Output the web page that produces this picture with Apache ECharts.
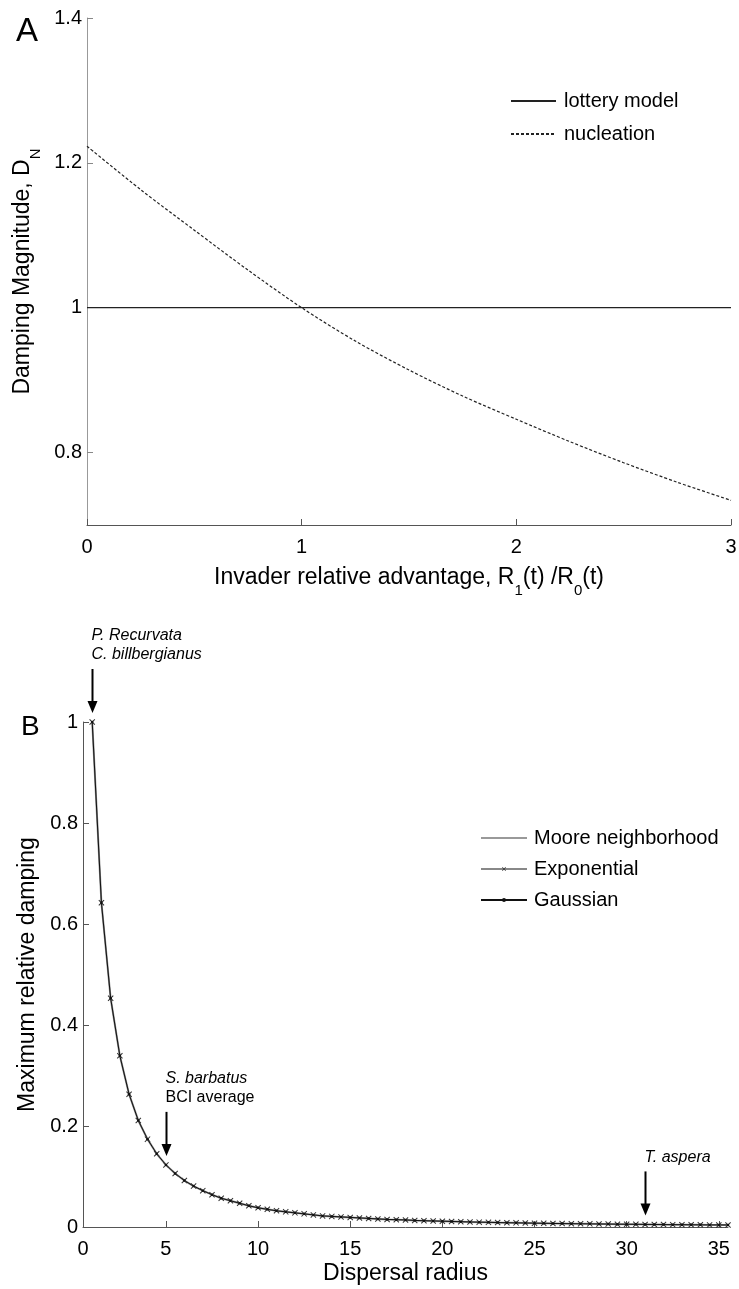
<!DOCTYPE html>
<html lang="en">
<head>
<meta charset="UTF-8">
<title>Damping magnitude / relative damping</title>
<style>
    body { margin: 0; background: #fff; }
    #main { width: 739px; height: 1289px; }
</style>
<script src="https://cdn.jsdelivr.net/npm/echarts@6.0.0/dist/echarts.min.js"></script>
</head>
<body>
<div id="main"></div>
<script type="text/javascript">
// ---- panel A data ----
var advantage = [0, 0.25, 0.5, 0.75, 1, 1.25, 1.5, 1.75, 2, 2.25, 2.5, 2.75, 3];
var lottery = [1, 1, 1, 1, 1, 1, 1, 1, 1, 1, 1, 1, 1];
var nucleation = [1.223, 1.163, 1.107, 1.052, 1.0, 0.954, 0.914, 0.878, 0.846, 0.815, 0.786, 0.759, 0.734];
var yTicksA = [0.8, 1, 1.2, 1.4];

// ---- panel B data ----
var radius = [1, 1.5, 2, 2.5, 3, 3.5, 4, 4.5, 5, 5.5, 6, 6.5, 7, 7.5, 8, 8.5, 9, 9.5, 10, 10.5,
    11, 11.5, 12, 12.5, 13, 13.5, 14, 14.5, 15, 15.5, 16, 16.5, 17, 17.5, 18, 18.5, 19, 19.5, 20, 20.5,
    21, 21.5, 22, 22.5, 23, 23.5, 24, 24.5, 25, 25.5, 26, 26.5, 27, 27.5, 28, 28.5, 29, 29.5, 30, 30.5,
    31, 31.5, 32, 32.5, 33, 33.5, 34, 34.5, 35, 35.5];
var dampExp = [1.000, 0.642, 0.453, 0.339, 0.263, 0.211, 0.174, 0.145, 0.123, 0.106,
    0.092, 0.081, 0.072, 0.064, 0.057, 0.052, 0.047, 0.042, 0.038, 0.035,
    0.032, 0.030, 0.028, 0.026, 0.024, 0.022, 0.021, 0.020, 0.019, 0.018,
    0.017, 0.016, 0.015, 0.0145, 0.014, 0.013, 0.0125, 0.012, 0.0115, 0.011,
    0.0105, 0.010, 0.0096, 0.0092, 0.0088, 0.0085, 0.0082, 0.0079, 0.0076, 0.0073,
    0.0070, 0.0068, 0.0066, 0.0064, 0.0062, 0.0060, 0.0058, 0.0056, 0.0054, 0.0053,
    0.0051, 0.0050, 0.0048, 0.0047, 0.0046, 0.0044, 0.0043, 0.0042, 0.0041, 0.0040];
// the three kernels lie on top of each other in the figure
var dampMoore = dampExp;
var dampGauss = dampExp;
var xTicksB = [0.5, 5, 10, 15, 20, 25, 30, 35];
var xTickLabelsB = ['0', '5', '10', '15', '20', '25', '30', '35'];

var noteRadius = [1, 5, 31];
var noteText = [
    '{i|P. Recurvata}\n{i|C. billbergianus}',
    '{i|S. barbatus}\n{n|BCI average}',
    '{i|T. aspera}'
];

var FONT = '"Liberation Sans", Arial, Helvetica, sans-serif';

function zip(xs, ys) {
    var out = [];
    for (var i = 0; i < xs.length; i++) out.push([xs[i], ys[i]]);
    return out;
}

var crossPath = 'path://M0,1.2L1.2,0L5,3.8L8.8,0L10,1.2L6.2,5L10,8.8L8.8,10L5,6.2L1.2,10L0,8.8L3.8,5Z';
// legend entries of plain lines: hide the default dot
var noDot = { color: 'rgba(0,0,0,0)', borderWidth: 0 };

var option = {
    animation: false,
    backgroundColor: '#fff',
    textStyle: { fontFamily: FONT },
    title: [
        { text: 'A', left: 16, top: 15, padding: 0,
          textStyle: { fontSize: 33, fontWeight: 'normal', color: '#000', fontFamily: FONT } },
        { text: 'B', left: 21, top: 713, padding: 0,
          textStyle: { fontSize: 28, fontWeight: 'normal', color: '#000', fontFamily: FONT } }
    ],
    legend: [
        {
            data: [{ name: 'lottery model', itemStyle: noDot }, { name: 'nucleation', itemStyle: noDot }],
            orient: 'vertical', left: 510, top: 91, padding: 0,
            itemWidth: 45, itemHeight: 6, itemGap: 13,
            textStyle: { fontSize: 20, color: '#000', fontFamily: FONT, padding: [0, 0, 0, 3] }
        },
        {
            data: [{ name: 'Moore neighborhood', itemStyle: noDot }, 'Exponential', 'Gaussian'],
            orient: 'vertical', left: 480, top: 828, padding: 0,
            itemWidth: 46, itemHeight: 5, itemGap: 11,
            textStyle: { fontSize: 20, color: '#000', fontFamily: FONT, padding: [0, 0, 0, 2] }
        }
    ],
    grid: [
        { left: 87, right: 8, top: 18, bottom: 764, outerBoundsMode: 'none' },
        { left: 83, right: 11, top: 722, bottom: 62, outerBoundsMode: 'none' }
    ],
    xAxis: [
        {
            gridIndex: 0, type: 'value', min: 0, max: 3, interval: 1,
            splitLine: { show: false },
            axisLine: { lineStyle: { color: '#555', width: 1 } },
            axisTick: { show: true, inside: true, length: 6, lineStyle: { color: '#555' } },
            axisLabel: { fontSize: 20, color: '#000', margin: 12, fontFamily: FONT },
            name: 'Invader relative advantage, R{s|1}(t) /R{s|0}(t)',
            nameLocation: 'middle', nameGap: 31,
            nameTextStyle: {
                fontSize: 23, color: '#000', fontFamily: FONT, lineHeight: 40,
                rich: { s: { fontSize: 15, lineHeight: 15, verticalAlign: 'bottom', fontFamily: FONT, color: '#000' } }
            }
        },
        {
            gridIndex: 1, type: 'value', min: 0.5, max: 35.5,
            splitLine: { show: false },
            axisLine: { lineStyle: { color: '#555', width: 1 } },
            axisTick: { show: true, inside: true, length: 6, lineStyle: { color: '#555' }, customValues: xTicksB },
            axisLabel: {
                fontSize: 20, color: '#000', margin: 12, fontFamily: FONT,
                customValues: xTicksB,
                formatter: function (v) {
                    var i = xTicksB.indexOf(v);
                    return i >= 0 ? xTickLabelsB[i] : '';
                }
            },
            name: 'Dispersal radius',
            nameLocation: 'middle', nameGap: 35,
            nameTextStyle: { fontSize: 23, color: '#000', fontFamily: FONT }
        }
    ],
    yAxis: [
        {
            gridIndex: 0, type: 'value', min: 0.7, max: 1.4,
            splitLine: { show: false },
            axisLine: { show: true, lineStyle: { color: '#999', width: 1 } },
            axisTick: { show: true, inside: true, length: 6, lineStyle: { color: '#888' }, customValues: yTicksA },
            axisLabel: { fontSize: 20, color: '#000', margin: 5, fontFamily: FONT, customValues: yTicksA },
            name: 'Damping Magnitude, D{s|N}',
            nameLocation: 'middle', nameGap: 44,
            nameTextStyle: {
                fontSize: 23, color: '#000', fontFamily: FONT, lineHeight: 40,
                rich: { s: { fontSize: 15, lineHeight: 15, verticalAlign: 'bottom', fontFamily: FONT, color: '#000' } }
            }
        },
        {
            gridIndex: 1, type: 'value', min: 0, max: 1, interval: 0.2,
            splitLine: { show: false },
            axisLine: { show: true, lineStyle: { color: '#555', width: 1 } },
            axisTick: { show: true, inside: true, length: 6, lineStyle: { color: '#555' } },
            axisLabel: { fontSize: 20, color: '#000', margin: 5, fontFamily: FONT },
            name: 'Maximum relative damping',
            nameLocation: 'middle', nameGap: 40,
            nameTextStyle: { fontSize: 23, color: '#000', fontFamily: FONT }
        }
    ],
    series: [
        {
            name: 'lottery model', type: 'line', xAxisIndex: 0, yAxisIndex: 0,
            data: zip(advantage, lottery), symbol: 'none',
            lineStyle: { color: '#222', width: 1.2 }, itemStyle: { color: '#222' }
        },
        {
            name: 'nucleation', type: 'line', xAxisIndex: 0, yAxisIndex: 0,
            data: zip(advantage, nucleation), symbol: 'none', smooth: 0.3,
            lineStyle: { color: '#222', width: 1.2, type: [3, 2] }, itemStyle: { color: '#222' }
        },
        {
            name: 'Moore neighborhood', type: 'line', xAxisIndex: 1, yAxisIndex: 1,
            data: zip(radius, dampMoore), symbol: 'none',
            lineStyle: { color: '#999', width: 2 }, itemStyle: { color: '#999' }
        },
        {
            name: 'Exponential', type: 'line', xAxisIndex: 1, yAxisIndex: 1,
            data: zip(radius, dampExp), symbol: crossPath, symbolSize: 6, showAllSymbol: true,
            lineStyle: { color: '#888', width: 1.2 }, itemStyle: { color: '#333' }
        },
        {
            name: 'Gaussian', type: 'line', xAxisIndex: 1, yAxisIndex: 1,
            data: zip(radius, dampGauss), symbol: 'circle', symbolSize: 2.5, showAllSymbol: true,
            lineStyle: { color: '#111', width: 1 }, itemStyle: { color: '#111' }
        }
    ]
};

var chart = echarts.init(document.getElementById('main'));
chart.setOption(option);

// annotation arrows pointing at data points of panel B
var graphics = [];
for (var k = 0; k < noteRadius.length; k++) {
    var r = noteRadius[k];
    var v = dampExp[radius.indexOf(r)];
    var p = chart.convertToPixel({ xAxisIndex: 1, yAxisIndex: 1 }, [r, v]);
    var tipX = Math.round(p[0]) + 0.5;
    var tipY = p[1] - 9;
    var shaftTop = tipY - 44;
    graphics.push({
        type: 'line', silent: true,
        shape: { x1: tipX, y1: shaftTop, x2: tipX, y2: tipY - 10 },
        style: { stroke: '#000', lineWidth: 2 }
    });
    graphics.push({
        type: 'polygon', silent: true,
        shape: { points: [[tipX - 5, tipY - 12], [tipX + 5, tipY - 12], [tipX, tipY]] },
        style: { fill: '#000' }
    });
    graphics.push({
        type: 'text', silent: true,
        x: tipX - 1, y: shaftTop - 4.5,
        style: {
            text: noteText[k], align: 'left', verticalAlign: 'bottom',
            fontSize: 16, fontFamily: FONT, fill: '#000', lineHeight: 19,
            rich: {
                i: { fontSize: 16, fontStyle: 'italic', fontFamily: FONT, fill: '#000', lineHeight: 19 },
                n: { fontSize: 16, fontFamily: FONT, fill: '#000', lineHeight: 19 }
            }
        }
    });
}
chart.setOption({ graphic: graphics });
</script>
</body>
</html>
